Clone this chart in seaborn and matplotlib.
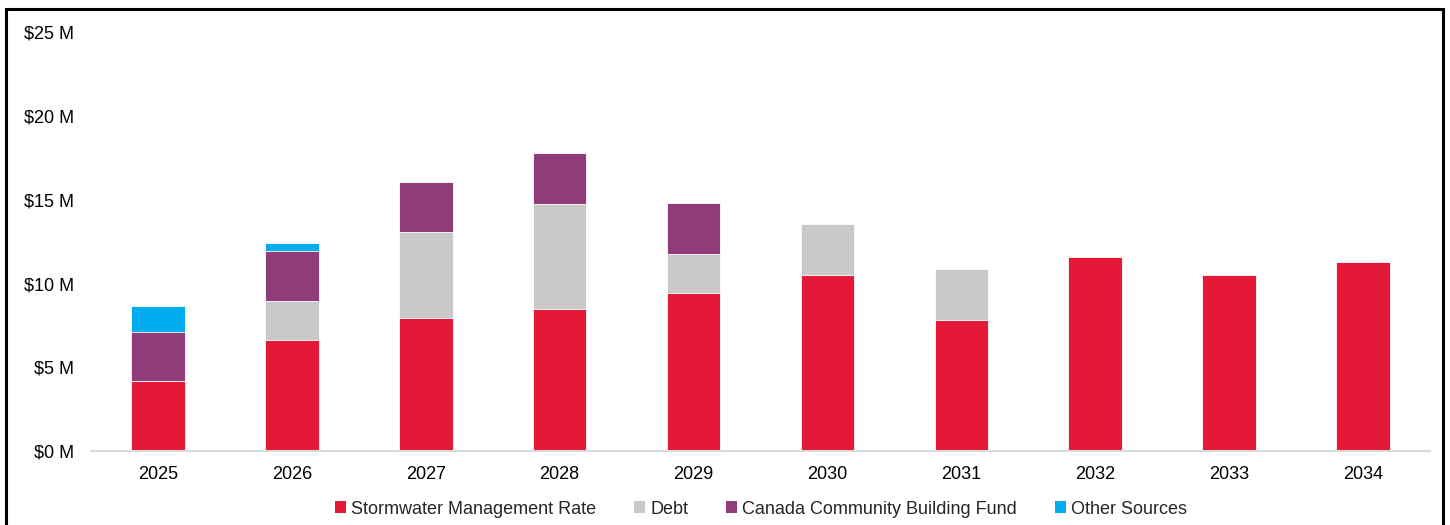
import matplotlib
matplotlib.use("Agg")
import numpy as np
import pandas as pd
import matplotlib.pyplot as plt
from matplotlib.patches import Patch, Rectangle
from matplotlib.ticker import FuncFormatter
import seaborn as sns

# funding by source, $ millions
years = ['2025', '2026', '2027', '2028', '2029', '2030', '2031', '2032', '2033', '2034']
stormwater = [4.2, 6.6, 7.92, 8.48, 9.43, 10.51, 7.84, 11.58, 10.49, 11.28]
debt = [0.0, 2.37, 5.15, 6.28, 2.35, 3.02, 3.03, 0.0, 0.0, 0.0]
ccbf = [2.92, 2.99, 3.01, 3.01, 3.03, 0.0, 0.0, 0.0, 0.0, 0.0]
other = [1.54, 0.46, 0.0, 0.0, 0.0, 0.0, 0.0, 0.0, 0.0, 0.0]

labels = ['Stormwater Management Rate', 'Debt', 'Canada Community Building Fund', 'Other Sources']
colors = ['#E31937', '#C9C9C9', '#913C7A', '#00AEEF']

df = pd.DataFrame({'Year': years, 'sw': stormwater, 'debt': debt, 'ccbf': ccbf, 'other': other})
# cumulative tops for stacking
df['c1'] = df['sw']
df['c2'] = df['c1'] + df['debt']
df['c3'] = df['c2'] + df['ccbf']
df['c4'] = df['c3'] + df['other']

sns.set_style('white')
plt.rcParams['font.family'] = ['Liberation Sans', 'DejaVu Sans']

fig = plt.figure(figsize=(14.5, 5.25), dpi=100)
ax = fig.add_axes([91/1450, 74/525, 1339/1450, 418.7/525])

# draw tallest stack first, then cover with lower segments
for col, c in zip(['c4', 'c3', 'c2', 'c1'], colors[::-1]):
    sns.barplot(data=df, x='Year', y=col, color=c, width=0.4, ax=ax,
                edgecolor='white', linewidth=0.6, saturation=1)

ax.set_ylim(0, 25)
ax.set_xlim(-0.5, 9.5)
ax.set_yticks([0, 5, 10, 15, 20, 25])
ax.yaxis.set_major_formatter(FuncFormatter(lambda v, p: f'${int(v)} M'))
ax.set_xlabel('')
ax.set_ylabel('')
ax.tick_params(axis='both', length=0, labelsize=13, colors='black')
ax.tick_params(axis='y', pad=12)
ax.tick_params(axis='x', pad=11)
sns.despine(ax=ax, left=True, top=True, right=True, bottom=False)
ax.spines['bottom'].set_color('#D9D9D9')
ax.spines['bottom'].set_linewidth(1.5)
ax.grid(False)

handles = [Patch(facecolor=c, edgecolor='none') for c in colors]
fig.legend(handles, labels, loc='center', bbox_to_anchor=(761/1450, 1 - 509/525),
           ncol=4, frameon=False, fontsize=13, handlelength=0.6, handleheight=0.6,
           handletextpad=0.3, columnspacing=2.1)

# outer frame
fig.patches.append(Rectangle((6/1450, -0.02), 1437/1450, 1.02 - 9/525,
                             transform=fig.transFigure, fill=False,
                             edgecolor='black', linewidth=2.2, clip_on=False))

fig.savefig('out.png', dpi=100)
